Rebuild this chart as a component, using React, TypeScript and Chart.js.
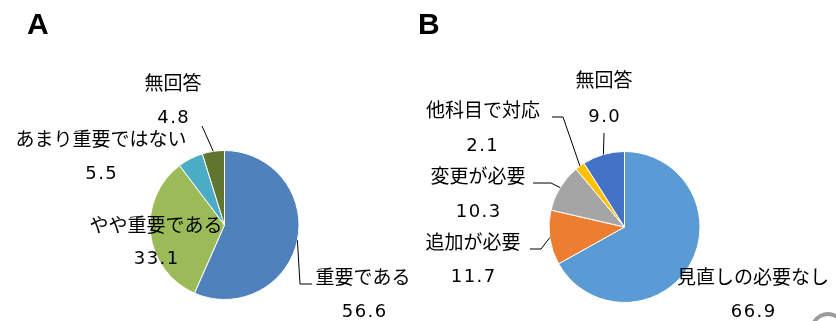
import React, { useEffect, useRef } from "react";
import { Chart, registerables } from "chart.js";

Chart.register(...registerables);

// ---- data ----
const categoriesA = ["重要である", "やや重要である", "あまり重要ではない", "無回答"];
const valuesA = [56.6, 33.1, 5.5, 4.8];
const colorsA = ["#4F81BD", "#9BBB59", "#4BACC6", "#60762F"];

const categoriesB = ["見直しの必要なし", "追加が必要", "変更が必要", "他科目で対応", "無回答"];
const valuesB = [66.9, 11.7, 10.3, 2.1, 9.0];
const colorsB = ["#5B9BD5", "#ED7D31", "#A5A5A5", "#FFC000", "#4472C4"];

const FONT = '"Noto Sans CJK JP", "Noto Sans", sans-serif';
const NUM_FONT = '"DejaVu Sans", "Noto Sans", sans-serif';

type Pt = [number, number];
type LabelLayout = { name: Pt; value: Pt; leader: Pt[] | null };

// label placement (canvas-local pixels)
const layoutA: LabelLayout[] = [
  { name: [363, 277], value: [364, 312], leader: [[300, 284], [312, 284]] },
  { name: [156, 225], value: [156, 259], leader: null },
  { name: [101, 139], value: [101, 174], leader: null },
  { name: [173, 83], value: [173, 118], leader: [[202, 126]] },
];

const layoutB: LabelLayout[] = [
  { name: [335, 277], value: [335, 312], leader: null },
  { name: [55, 242], value: [55, 277], leader: [[123, 249], [112, 249]] },
  { name: [60, 176], value: [60, 212], leader: [[133, 183], [115, 183]] },
  { name: [65, 110], value: [64, 146], leader: [[145, 117], [134, 117]] },
  { name: [186, 80], value: [186, 117], leader: [[186, 133]] },
];

type Props = {
  title: string;
  categories: string[];
  values: number[];
  colors: string[];
  layout: LabelLayout[];
  padding: { left: number; right: number; top: number; bottom: number };
  left: number;
  extra?: (ctx: CanvasRenderingContext2D) => void;
};

function PieChart({ title, categories, values, colors, layout, padding, left, extra }: Props) {
  const ref = useRef<HTMLCanvasElement>(null);

  useEffect(() => {
    if (!ref.current) return;
    const labelPlugin = {
      id: "pieLabels",
      afterDraw(chart: any) {
        const ctx: any = chart.ctx;
        const meta = chart.getDatasetMeta(0);
        ctx.save();
        // title
        ctx.fillStyle = "#000";
        ctx.font = 'bold 30px "Liberation Sans", Arial, sans-serif';
        ctx.textAlign = "left";
        ctx.textBaseline = "alphabetic";
        ctx.fillText(title, title === "A" ? 27 : 0, 34);

        meta.data.forEach((arc: any, i: number) => {
          const lay = layout[i];
          const p = arc.getProps(["x", "y", "startAngle", "endAngle", "outerRadius"], true);
          const mid = (p.startAngle + p.endAngle) / 2;
          const ax = p.x + p.outerRadius * Math.cos(mid);
          const ay = p.y + p.outerRadius * Math.sin(mid);
          if (lay.leader) {
            ctx.strokeStyle = "#000";
            ctx.lineWidth = 1;
            ctx.beginPath();
            ctx.moveTo(ax, ay);
            lay.leader.forEach(([lx, ly]) => ctx.lineTo(lx, ly));
            ctx.stroke();
          }
          ctx.fillStyle = "#000";
          ctx.textAlign = "center";
          ctx.textBaseline = "middle";
          ctx.font = `19px ${FONT}`;
          ctx.letterSpacing = "0px";
          ctx.fillText(categories[i], lay.name[0], lay.name[1]);
          ctx.font = `18px ${NUM_FONT}`;
          ctx.letterSpacing = "1.5px";
          ctx.fillText(values[i].toFixed(1), lay.value[0] + 0.75, lay.value[1]);
          ctx.letterSpacing = "0px";
        });
        if (extra) extra(ctx);
        ctx.restore();
      },
    };

    const chart = new Chart(ref.current, {
      type: "pie",
      data: {
        labels: categories,
        datasets: [
          {
            data: values,
            backgroundColor: colors,
            borderColor: "#ffffff",
            borderWidth: 1,
          },
        ],
      },
      options: {
        animation: false,
        responsive: false,
        layout: { padding },
        plugins: {
          legend: { display: false },
          tooltip: { enabled: false },
          title: { display: false },
        },
      },
      plugins: [labelPlugin],
    });
    return () => chart.destroy();
  }, []);

  return (
    <canvas
      ref={ref}
      width={418}
      height={321}
      style={{ position: "absolute", left, top: 0, width: 418, height: 321 }}
    />
  );
}

export default function App() {
  return (
    <div style={{ position: "absolute", left: 0, top: 0, width: 836, height: 321, background: "#fff", overflow: "hidden" }}>
      <PieChart
        title="A"
        categories={categoriesA}
        values={valuesA}
        colors={colorsA}
        layout={layoutA}
        padding={{ left: 149, right: 118, top: 150, bottom: 21 }}
        left={0}
      />
      <PieChart
        title="B"
        categories={categoriesB}
        values={valuesB}
        colors={colorsB}
        layout={layoutB}
        padding={{ left: 130, right: 135, top: 151, bottom: 18 }}
        left={418}
        extra={(ctx) => {
          ctx.strokeStyle = "#9a9a9a";
          ctx.lineWidth = 4;
          ctx.beginPath();
          ctx.arc(410, 330, 16, Math.PI * 1.1, Math.PI * 1.95);
          ctx.stroke();
        }}
      />
    </div>
  );
}
